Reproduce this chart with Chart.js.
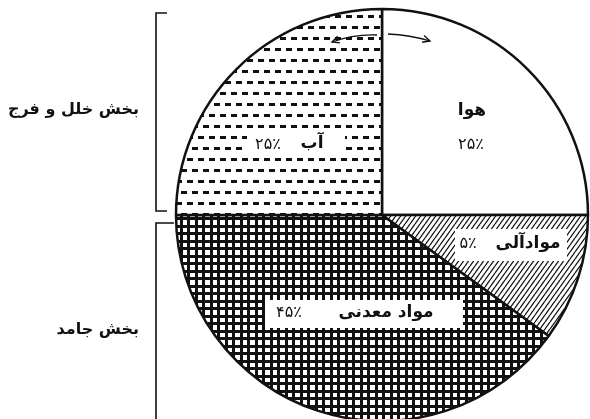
<!DOCTYPE html>
<html lang="fa">
<head>
<meta charset="utf-8">
<script src="https://cdn.jsdelivr.net/npm/chart.js@4.4.1/dist/chart.umd.min.js"></script>
<style>
    html, body { margin: 0; padding: 0; background: #ffffff; overflow: hidden; }
    #wrap { width: 590px; height: 419px; }
</style>
</head>
<body>
<div id="wrap"><canvas id="soilChart" width="590" height="419"></canvas></div>
<script>
// ========== DADOS ==========
const sliceNames = ['هوا', 'موادآلی', 'مواد معدنی', 'آب'];
const sliceShares = [25, 10, 40, 25];          // parte do círculo como desenhada
const percentTexts = ['۲۵٪', '۵٪', '۴۵٪', '۲۵٪']; // rótulos escritos no gráfico
const groupNames = ['بخش خلل و فرج', 'بخش جامد'];

const INK = '#111111';
const FA_FONT = '"DejaVu Sans", sans-serif';

// ========== PADRÕES DE PREENCHIMENTO ==========
function makePattern(w, h, draw) {
    const c = document.createElement('canvas');
    c.width = w;
    c.height = h;
    const g = c.getContext('2d');
    g.fillStyle = '#ffffff';
    g.fillRect(0, 0, w, h);
    g.fillStyle = INK;
    g.strokeStyle = INK;
    draw(g, w, h);
    return g.createPattern(c, 'repeat');
}

// tracejado em fileiras alternadas
const dashFill = makePattern(11, 22, function (g) {
    g.fillRect(0, 4, 6, 3);
    g.fillRect(5, 15, 6, 3);
});

const gridFill = makePattern(15, 15, function (g) {
    g.fillRect(0, 0, 3, 15);
    g.fillRect(7, 0, 3, 15);
    g.fillRect(0, 0, 15, 3);
    g.fillRect(0, 7, 15, 3);
});

const hatchFill = makePattern(5, 7, function (g, w, h) {
    g.lineWidth = 1.3;
    [-w, 0, w].forEach(function (o) {
        g.beginPath();
        g.moveTo(o, h);
        g.lineTo(o + w, 0);
        g.stroke();
    });
});

// ========== RÓTULOS, CHAVES E SETAS ==========
const overlay = {
    id: 'overlay',
    afterDatasetsDraw(chart) {
        const ctx = chart.ctx;
        const arc = chart.getDatasetMeta(0).data[0];
        const cx = arc.x, cy = arc.y, r = arc.outerRadius;

        ctx.save();
        ctx.direction = 'rtl';
        ctx.textAlign = 'center';
        ctx.textBaseline = 'middle';
        ctx.fillStyle = INK;

        function box(x, y, w, h) {
            ctx.fillStyle = '#ffffff';
            ctx.fillRect(x - w / 2, y - h / 2, w, h);
            ctx.fillStyle = INK;
        }
        function word(t, x, y, size) {
            ctx.font = 'bold ' + (size || 17) + 'px ' + FA_FONT;
            ctx.fillText(t, x, y);
        }
        function pct(t, x, y) {
            ctx.font = '16px ' + FA_FONT;
            ctx.fillText(t, x, y);
        }

        // هوا
        word(sliceNames[0], cx + 90, cy - 104);
        pct(percentTexts[0], cx + 89, cy - 70);

        // موادآلی
        box(cx + 129, cy + 30, 112, 32);
        word(sliceNames[1], cx + 146, cy + 29);
        pct(percentTexts[1], cx + 86, cy + 29);

        // مواد معدنی
        box(cx - 18, cy + 99, 198, 28);
        word(sliceNames[2], cx + 4, cy + 98);
        pct(percentTexts[2], cx - 93, cy + 98);

        // آب
        box(cx - 86, cy - 70, 98, 25);
        word(sliceNames[3], cx - 70, cy - 71);
        pct(percentTexts[3], cx - 114, cy - 70);

        // chaves à esquerda
        const bx = cx - r - 20;
        ctx.strokeStyle = INK;
        ctx.lineWidth = 1.6;
        ctx.beginPath();
        ctx.moveTo(bx + 11, cy - r + 4);
        ctx.lineTo(bx, cy - r + 4);
        ctx.lineTo(bx, cy - 4);
        ctx.lineTo(bx + 11, cy - 4);
        ctx.moveTo(bx + 18, cy + 8);
        ctx.lineTo(bx, cy + 8);
        ctx.lineTo(bx, cy + r + 10);
        ctx.stroke();

        ctx.textAlign = 'right';
        word(groupNames[0], bx - 17, cy - 105, 16);
        word(groupNames[1], bx - 17, cy + 115, 16);

        // setas curvas no topo
        function arrow(x0, y0, qx, qy, x1, y1) {
            ctx.lineWidth = 1.3;
            ctx.beginPath();
            ctx.moveTo(x0, y0);
            ctx.quadraticCurveTo(qx, qy, x1, y1);
            ctx.stroke();
            const a = Math.atan2(y1 - qy, x1 - qx);
            ctx.beginPath();
            ctx.moveTo(x1 - 8 * Math.cos(a - 0.45), y1 - 8 * Math.sin(a - 0.45));
            ctx.lineTo(x1, y1);
            ctx.lineTo(x1 - 8 * Math.cos(a + 0.45), y1 - 8 * Math.sin(a + 0.45));
            ctx.stroke();
        }
        arrow(cx - 5, cy - 180, cx - 28, cy - 181, cx - 50, cy - 173);
        arrow(cx + 6, cy - 181, cx + 28, cy - 180, cx + 48, cy - 174);

        ctx.restore();
    }
};

document.addEventListener('DOMContentLoaded', function () {
    if (typeof Chart === 'undefined') {
        console.error('Chart.js não foi carregado');
        return;
    }

    new Chart(document.getElementById('soilChart'), {
        type: 'pie',
        data: {
            labels: sliceNames,
            datasets: [{
                data: sliceShares,
                backgroundColor: ['#ffffff', hatchFill, gridFill, dashFill],
                borderColor: INK,
                borderWidth: 2.5,
                radius: 206,
                clip: false
            }]
        },
        options: {
            responsive: false,
            animation: false,
            layout: {
                padding: { left: 176, right: 2, top: 11, bottom: 0 }
            },
            plugins: {
                legend: { display: false },
                tooltip: { enabled: false }
            }
        },
        plugins: [overlay]
    });
});
</script>
</body>
</html>
